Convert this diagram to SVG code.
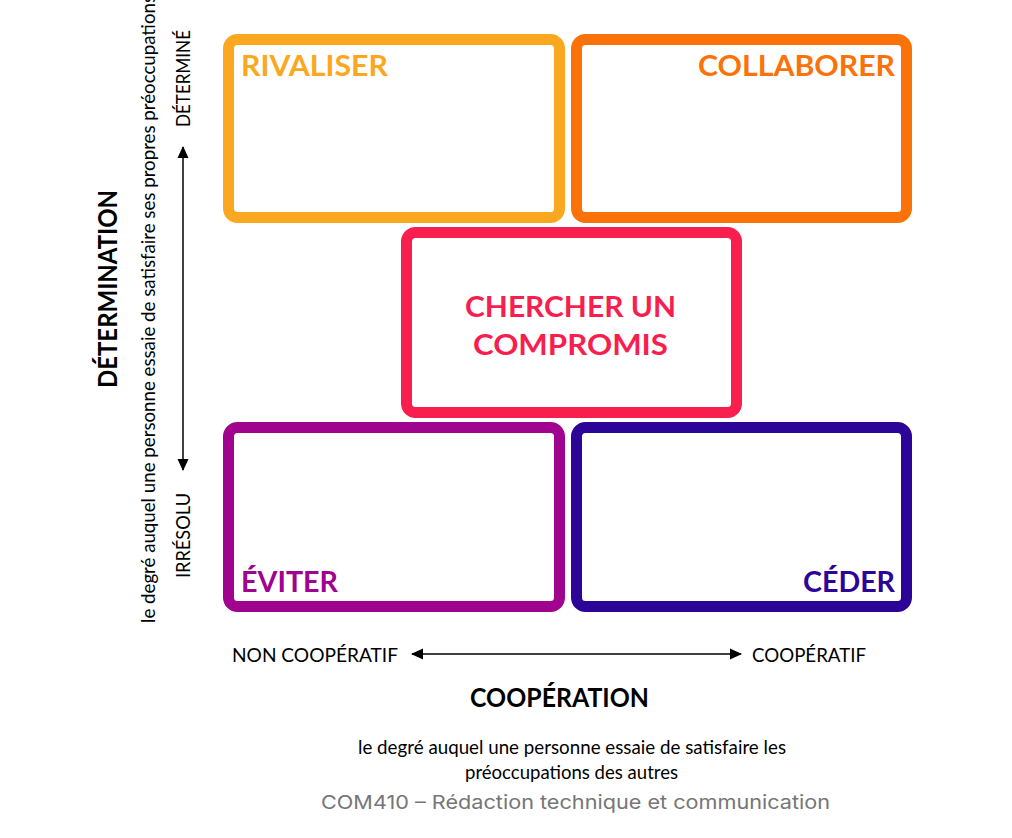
<svg xmlns="http://www.w3.org/2000/svg" width="1012" height="838" viewBox="0 0 1012 838">
  <style>
    .box { fill: #ffffff; stroke-width: 11; }
    .title { font-family: Lato, "Noto Sans", sans-serif; font-weight: 700; font-size: 29px; }
    .axis { font-family: Lato, "Noto Sans", sans-serif; font-size: 20px; fill: #000000; }
    .axis-title { font-family: Lato, "Noto Sans", sans-serif; font-weight: 700; font-size: 26px; fill: #000000; }
    .desc { font-family: Lato, "Noto Sans", sans-serif; font-size: 19px; fill: #000000; }
    .footer { font-family: Inter, Roboto, sans-serif; font-size: 19px; fill: #767676; }
    .arrow-line { stroke: #000000; stroke-width: 1.5; fill: none; }
  </style>
  <defs>
    <marker id="head" viewBox="0 0 12 12" refX="11" refY="6" markerWidth="12" markerHeight="12" markerUnits="userSpaceOnUse" orient="auto-start-reverse">
      <path d="M0,0.5 L12,6 L0,11.5 Z" fill="#000000"/>
    </marker>
  </defs>

  <rect width="1012" height="838" fill="#ffffff"/>

  <!-- conflict-handling styles -->
  <g id="rivaliser">
    <rect class="box" x="228.5" y="39.5" width="331" height="178" rx="9" stroke="#FBA820"/>
    <text class="title" x="241" y="76" fill="#FBA820" textLength="147" lengthAdjust="spacingAndGlyphs">RIVALISER</text>
  </g>
  <g id="collaborer">
    <rect class="box" x="576.5" y="39.5" width="330" height="178" rx="9" stroke="#FB7308"/>
    <text class="title" x="895" y="76" fill="#FB7308" text-anchor="end" textLength="197" lengthAdjust="spacingAndGlyphs">COLLABORER</text>
  </g>
  <g id="compromis">
    <rect class="box" x="406.5" y="232.5" width="330" height="180" rx="9" stroke="#F81E4E"/>
    <text class="title" x="570.5" y="317" fill="#F81E4E" text-anchor="middle" textLength="211" lengthAdjust="spacingAndGlyphs">CHERCHER UN</text>
    <text class="title" x="570.5" y="355" fill="#F81E4E" text-anchor="middle" textLength="195" lengthAdjust="spacingAndGlyphs">COMPROMIS</text>
  </g>
  <g id="eviter">
    <rect class="box" x="228.5" y="427.5" width="331" height="179" rx="9" stroke="#A0038E"/>
    <text class="title" x="241" y="592" fill="#A0038E" textLength="97" lengthAdjust="spacingAndGlyphs">ÉVITER</text>
  </g>
  <g id="ceder">
    <rect class="box" x="576.5" y="427.5" width="330" height="179" rx="9" stroke="#2D0498"/>
    <text class="title" x="895" y="592" fill="#2D0498" text-anchor="end" textLength="92" lengthAdjust="spacingAndGlyphs">CÉDER</text>
  </g>

  <!-- axes -->
  <g id="connectors">
    <line class="arrow-line" x1="183" y1="147" x2="183" y2="470" marker-start="url(#head)" marker-end="url(#head)"/>
    <line class="arrow-line" x1="412" y1="654" x2="741" y2="654" marker-start="url(#head)" marker-end="url(#head)"/>
  </g>

  <!-- vertical axis labels -->
  <g id="axis-determination">
    <text class="axis-title" transform="translate(117,289) rotate(-90)" text-anchor="middle" textLength="198" lengthAdjust="spacingAndGlyphs">DÉTERMINATION</text>
    <text class="desc" transform="translate(155,623) rotate(-90)" textLength="628" lengthAdjust="spacingAndGlyphs">le degré auquel une personne essaie de satisfaire ses propres préoccupations</text>
    <text class="axis" transform="translate(190,127) rotate(-90)" textLength="97" lengthAdjust="spacingAndGlyphs">DÉTERMINÉ</text>
    <text class="axis" transform="translate(190,578) rotate(-90)" textLength="85" lengthAdjust="spacingAndGlyphs">IRRÉSOLU</text>
  </g>

  <!-- horizontal axis labels -->
  <g id="axis-cooperation">
    <text class="axis" x="232" y="662" textLength="166" lengthAdjust="spacingAndGlyphs">NON COOPÉRATIF</text>
    <text class="axis" x="752" y="662" textLength="114" lengthAdjust="spacingAndGlyphs">COOPÉRATIF</text>
    <text class="axis-title" x="559.5" y="707" text-anchor="middle" textLength="179" lengthAdjust="spacingAndGlyphs">COOPÉRATION</text>
    <text class="desc" x="572" y="754" text-anchor="middle" textLength="428" lengthAdjust="spacingAndGlyphs">le degré auquel une personne essaie de satisfaire les</text>
    <text class="desc" x="571.5" y="779" text-anchor="middle" textLength="213" lengthAdjust="spacingAndGlyphs">préoccupations des autres</text>
  </g>

  <text id="footer" class="footer" x="575.5" y="809" text-anchor="middle" textLength="509" lengthAdjust="spacingAndGlyphs">COM410 – Rédaction technique et communication</text>
</svg>
